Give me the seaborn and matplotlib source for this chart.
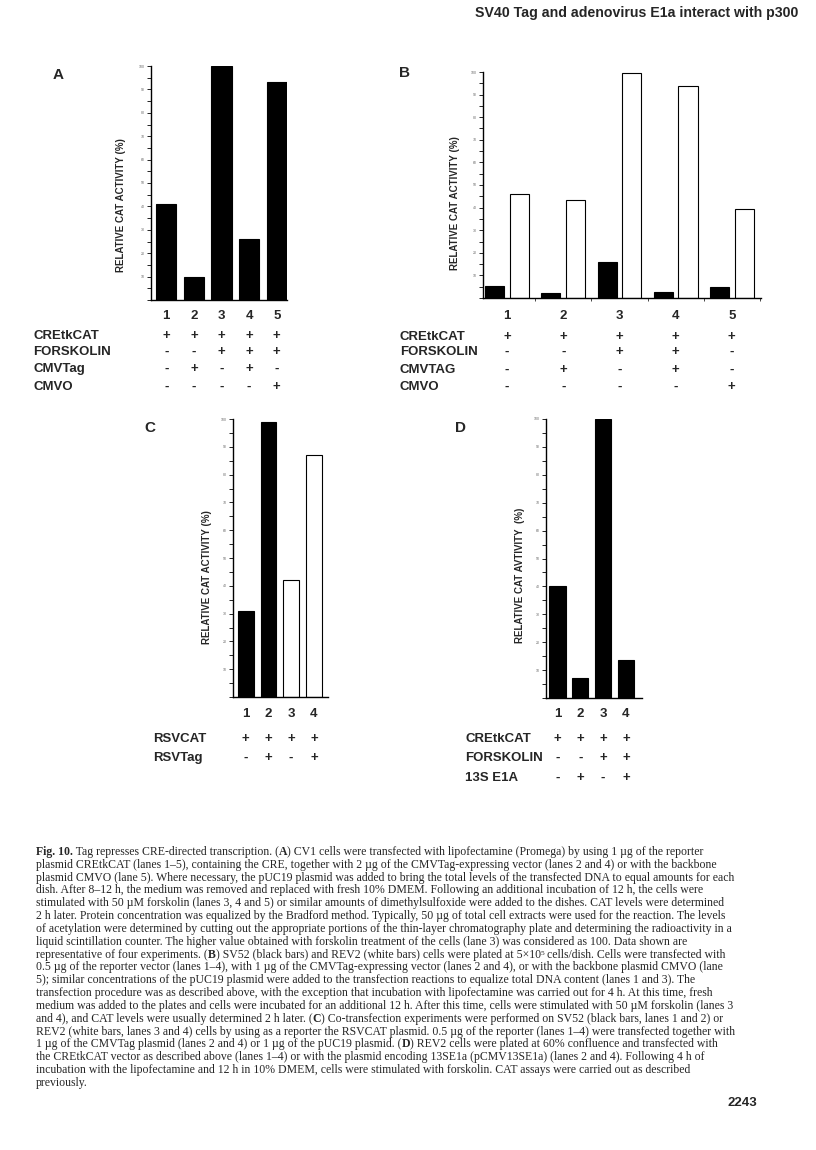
import matplotlib
matplotlib.use("Agg")
import matplotlib.pyplot as plt
import matplotlib.transforms as mtransforms
import seaborn as sns
import pandas as pd

# ---------------- data ----------------
lanes_A = ["1", "2", "3", "4", "5"]
activity_A = [41, 10, 100, 26, 93]

lanes_B = ["1", "2", "3", "4", "5"]
sv52_B = [5.3, 2.4, 16, 2.6, 4.9]
rev2_B = [46, 43.5, 99.5, 94, 39.5]

lanes_C = ["1", "2", "3", "4"]
activity_C = [31, 99, 42, 87]
cells_C = ["SV52", "SV52", "REV2", "REV2"]

lanes_D = ["1", "2", "3", "4"]
activity_D = [40, 7, 100, 13.5]

row_names_A = ["CREtkCAT", "FORSKOLIN", "CMVTag", "CMVO"]
row_signs_A = ["+++++", "--+++", "-+-+-", "----+"]
row_names_B = ["CREtkCAT", "FORSKOLIN", "CMVTAG", "CMVO"]
row_signs_B = ["+++++", "--++-", "-+-+-", "----+"]
row_names_C = ["RSVCAT", "RSVTag"]
row_signs_C = ["++++", "-+-+"]
row_names_D = ["CREtkCAT", "FORSKOLIN", "13S E1A"]
row_signs_D = ["++++", "--++", "-+-+"]

ylabel_main = "RELATIVE CAT ACTIVITY (%)"
ylabel_D = "RELATIVE CAT AVTIVITY  (%)"
header = "SV40 Tag and adenovirus E1a interact with p300"
page_number = "2243"

# caption lines as (text, style) segments: "n" normal, "b" bold, "s" superscript
caption_lines = [
    [("Fig. 10.", "b"), (" Tag represses CRE-directed transcription. (", "n"), ("A", "b"),
     (") CV1 cells were transfected with lipofectamine (Promega) by using 1 µg of the reporter", "n")],
    [("plasmid CREtkCAT (lanes 1–5), containing the CRE, together with 2 µg of the CMVTag-expressing vector (lanes 2 and 4) or with the backbone", "n")],
    [("plasmid CMVO (lane 5). Where necessary, the pUC19 plasmid was added to bring the total levels of the transfected DNA to equal amounts for each", "n")],
    [("dish. After 8–12 h, the medium was removed and replaced with fresh 10% DMEM. Following an additional incubation of 12 h, the cells were", "n")],
    [("stimulated with 50 µM forskolin (lanes 3, 4 and 5) or similar amounts of dimethylsulfoxide were added to the dishes. CAT levels were determined", "n")],
    [("2 h later. Protein concentration was equalized by the Bradford method. Typically, 50 µg of total cell extracts were used for the reaction. The levels", "n")],
    [("of acetylation were determined by cutting out the appropriate portions of the thin-layer chromatography plate and determining the radioactivity in a", "n")],
    [("liquid scintillation counter. The higher value obtained with forskolin treatment of the cells (lane 3) was considered as 100. Data shown are", "n")],
    [("representative of four experiments. (", "n"), ("B", "b"),
     (") SV52 (black bars) and REV2 (white bars) cells were plated at 5×10", "n"), ("5", "s"),
     (" cells/dish. Cells were transfected with", "n")],
    [("0.5 µg of the reporter vector (lanes 1–4), with 1 µg of the CMVTag-expressing vector (lanes 2 and 4), or with the backbone plasmid CMVO (lane", "n")],
    [("5); similar concentrations of the pUC19 plasmid were added to the transfection reactions to equalize total DNA content (lanes 1 and 3). The", "n")],
    [("transfection procedure was as described above, with the exception that incubation with lipofectamine was carried out for 4 h. At this time, fresh", "n")],
    [("medium was added to the plates and cells were incubated for an additional 12 h. After this time, cells were stimulated with 50 µM forskolin (lanes 3", "n")],
    [("and 4), and CAT levels were usually determined 2 h later. (", "n"), ("C", "b"),
     (") Co-transfection experiments were performed on SV52 (black bars, lanes 1 and 2) or", "n")],
    [("REV2 (white bars, lanes 3 and 4) cells by using as a reporter the RSVCAT plasmid. 0.5 µg of the reporter (lanes 1–4) were transfected together with", "n")],
    [("1 µg of the CMVTag plasmid (lanes 2 and 4) or 1 µg of the pUC19 plasmid. (", "n"), ("D", "b"),
     (") REV2 cells were plated at 60% confluence and transfected with", "n")],
    [("the CREtkCAT vector as described above (lanes 1–4) or with the plasmid encoding 13SE1a (pCMV13SE1a) (lanes 2 and 4). Following 4 h of", "n")],
    [("incubation with the lipofectamine and 12 h in 10% DMEM, cells were stimulated with forskolin. CAT assays were carried out as described", "n")],
    [("previously.", "n")],
]

# ---------------- style ----------------
sns.set_style("ticks")
plt.rcParams["font.family"] = ["Liberation Sans", "DejaVu Sans"]

W, H = 816, 1150
fig = plt.figure(figsize=(W / 100, H / 100), dpi=100)
fig.patch.set_facecolor("white")
renderer = fig.canvas.get_renderer()
SERIF = ["Liberation Serif", "DejaVu Serif"]


def fx(px):
    return px / W


def fy(py):
    return 1 - py / H


def add_axes(l, r, t, b):
    return fig.add_axes([fx(l), fy(b), (r - l) / W, (b - t) / H])


def style_axes(ax, xlim, pad, lab_x, lab_y, label):
    ax.set_xlim(*xlim)
    ax.set_ylim(0, 100)
    ax.set_yticks(range(0, 101, 10))
    ax.set_yticklabels([""] + [str(v) for v in range(10, 101, 10)])
    ax.set_yticks(range(5, 100, 10), minor=True)
    ax.tick_params(axis="y", which="both", direction="out", length=3, width=0.6,
                   labelsize=2.5, labelcolor="#666666", pad=1.2, color="black")
    ax.tick_params(axis="x", which="major", length=0, labelsize=9.5, pad=pad)
    for t in ax.get_xticklabels():
        t.set_fontweight("bold")
    sns.despine(ax=ax)
    for s in ("left", "bottom"):
        ax.spines[s].set_linewidth(1.0)
        ax.spines[s].set_color("black")
    ax.set_xlabel("")
    ax.set_ylabel(label, fontsize=7, fontweight="bold", va="center")
    ax.yaxis.set_label_coords(lab_x, lab_y)
    ax.set_facecolor("white")


def sign_rows(ax, names, signs, name_x, ys, fs=9.5):
    trans = mtransforms.blended_transform_factory(ax.transData, fig.transFigure)
    for name, sg, y in zip(names, signs, ys):
        fig.text(fx(name_x), fy(y), name, fontsize=fs, fontweight="bold",
                 ha="left", va="center")
        for i, ch in enumerate(sg):
            ax.text(i, fy(y), ch, transform=trans, fontsize=fs, fontweight="bold",
                    ha="center", va="center", clip_on=False)


# ---------------- panel A ----------------
axA = add_axes(151, 287, 66, 300)
dfA = pd.DataFrame({"lane": lanes_A, "activity": activity_A})
sns.barplot(data=dfA, x="lane", y="activity", color="black", saturation=1,
            width=0.73, edgecolor="black", linewidth=0.8, errorbar=None, ax=axA)
style_axes(axA, (-0.55, 4.37), 7.2, -0.22, 0.406, ylabel_main)
sign_rows(axA, row_names_A, row_signs_A, 33, [336, 352, 369, 387])

# ---------------- panel B ----------------
axB = add_axes(483, 761, 72, 298)
dfB = pd.DataFrame({
    "lane": lanes_B * 2,
    "activity": sv52_B + rev2_B,
    "cells": ["SV52"] * len(lanes_B) + ["REV2"] * len(lanes_B),
})
sns.barplot(data=dfB, x="lane", y="activity", hue="cells", hue_order=["SV52", "REV2"],
            palette={"SV52": "black", "REV2": "white"}, saturation=1,
            width=0.88, gap=0.23, edgecolor="black", linewidth=0.8,
            errorbar=None, legend=False, ax=axB)
style_axes(axB, (-0.43, 4.52), 8.6, -0.10, 0.42, ylabel_main)
axB.set_xticks([i + 0.5 for i in range(5)], minor=True)
axB.tick_params(axis="x", which="minor", direction="out", length=2, width=0.6)
sign_rows(axB, row_names_B, row_signs_B, 400, [337, 352, 370, 387])

# ---------------- panel C ----------------
axC = add_axes(233, 328, 419, 697)
dfC = pd.DataFrame({"lane": lanes_C, "activity": activity_C, "cells": cells_C})
sns.barplot(data=dfC, x="lane", y="activity", hue="cells", hue_order=["SV52", "REV2"],
            palette={"SV52": "black", "REV2": "white"}, saturation=1, dodge=False,
            width=0.7, edgecolor="black", linewidth=0.8, errorbar=None,
            legend=False, ax=axC)
style_axes(axC, (-0.56, 3.62), 8.0, -0.274, 0.43, ylabel_main)
sign_rows(axC, row_names_C, row_signs_C, 153, [739, 758])

# ---------------- panel D ----------------
axD = add_axes(546, 642, 419, 698)
dfD = pd.DataFrame({"lane": lanes_D, "activity": activity_D})
sns.barplot(data=dfD, x="lane", y="activity", color="black", saturation=1,
            width=0.71, edgecolor="black", linewidth=0.8, errorbar=None, ax=axD)
style_axes(axD, (-0.5, 3.7), 7.2, -0.271, 0.44, ylabel_D)
sign_rows(axD, row_names_D, row_signs_D, 465, [739, 758, 778])

# ---------------- panel letters, header, page number ----------------
for letter, (x, y) in {"A": (58, 75), "B": (404, 73), "C": (150, 428), "D": (460, 428)}.items():
    fig.text(fx(x), fy(y), letter, fontsize=11, fontweight="bold", ha="center", va="center")

fig.text(fx(798), fy(13), header, fontsize=10.2, fontweight="bold", ha="right", va="center")
fig.text(fx(742), fy(1103), page_number, fontsize=9.5, fontweight="bold", ha="center", va="center")

# ---------------- caption ----------------
CAP_FS = 8.5
for i, segments in enumerate(caption_lines):
    x = 36.0
    base = 855 + i * 12.83
    for seg, style in segments:
        if style == "s":
            t = fig.text(fx(x), fy(base - 3.0), seg, fontsize=CAP_FS * 0.62,
                         family=SERIF, ha="left", va="baseline")
        else:
            t = fig.text(fx(x), fy(base), seg, fontsize=CAP_FS, family=SERIF,
                         fontweight="bold" if style == "b" else "normal",
                         ha="left", va="baseline")
        x += t.get_window_extent(renderer).width

fig.savefig("out.png", dpi=100, facecolor="white")
